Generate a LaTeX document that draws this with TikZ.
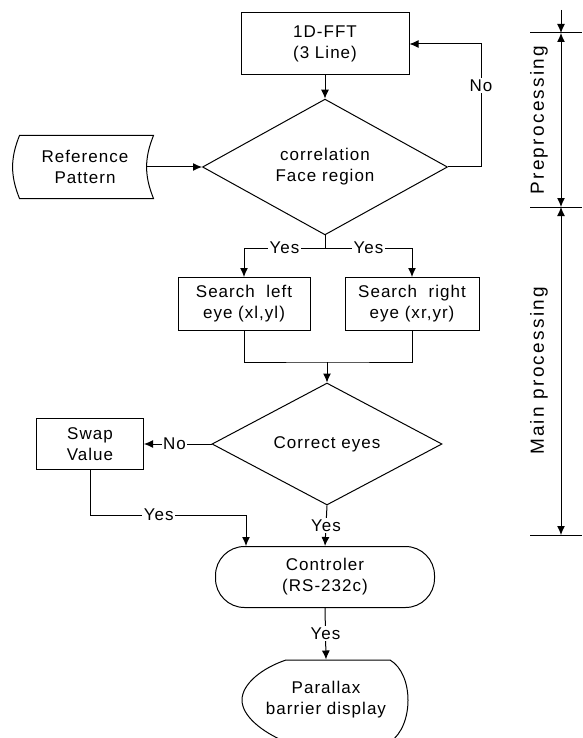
\documentclass[tikz,border=0pt]{standalone}
\usepackage{fontspec}
\setmainfont{Liberation Sans}[LetterSpace=6]
\newfontfamily\sidefont{Liberation Sans}[LetterSpace=12]
\usetikzlibrary{shapes.geometric,arrows.meta,positioning}

\begin{document}
\begin{tikzpicture}
	[x=1pt,y=-1pt,line width=1pt,
	font=\fontsize{17}{21}\selectfont,
	box/.style={draw,rectangle,inner sep=0pt,align=center},
	dec/.style={draw,diamond,inner sep=0pt,align=center},
	lbl/.style={fill=white,inner sep=1.5pt},
	side/.style={rotate=90,font=\sidefont\fontsize{19}{22}\selectfont},
	arr/.style={-{Latex[length=9pt,width=8pt]}},
	darr/.style={{Latex[length=9pt,width=8pt]}-{Latex[length=9pt,width=8pt]}}]
	\useasboundingbox (0,0) rectangle (582,738);
	%%%%% PREPROCESSING
	\node[box,minimum width=168pt,minimum height=62pt] (fft) at (325,44) {1D-FFT\\(3 Line)};
	\node[dec,minimum width=245pt,minimum height=102pt] (corr) at (325,167) {correlation\\Face region};
	\node[align=center,minimum width=136pt,minimum height=62pt] (ref) at (85,167) {Reference\\Pattern};
	\draw ([xshift=3pt]ref.north west) -- (ref.north east) to[bend right=22] (ref.south east)
	-- ([xshift=3pt]ref.south west) to[bend left=22] cycle;
	\coordinate (refout) at ([xshift=-7pt]ref.east);
	\draw[arr] (refout) -- (corr.west);
	\draw[arr] (fft.south) -- (corr.north);
	\draw[arr] (corr.east) -- ++(33,0) |- node[lbl,pos=0.33]{No} (fft.east);
	%%%%% SEARCH EYES
	\node[box,minimum width=132pt,minimum height=53pt] (left) at (244,304) {Search~~left\\eye (xl,yl)};
	\node[box,minimum width=134pt,minimum height=53pt] (right) at (412,304) {Search~~right\\eye (xr,yr)};
	\coordinate (split) at (325,248);
	\draw (corr.south) -- (split);
	\draw[arr] (split) -| node[lbl,pos=0.25]{Yes} (left.north);
	\draw[arr] (split) -| node[lbl,pos=0.25]{Yes} (right.north);
	\coordinate (merge) at (327,362);
	\draw (left.south) |- (merge) -| (right.south);
	%%%%% CHECK
	\node[dec,minimum width=230pt,minimum height=82pt] (eyes) at (327,444) {Correct eyes};
	\node[box,minimum width=107pt,minimum height=51pt] (swap) at (90,444) {Swap\\Value};
	\draw[arr] (merge) -- (eyes.north);
	\draw[arr] (eyes.west) -- node[lbl,pos=0.55]{No} (swap.east);
	%%%%% OUTPUT
	\node[draw,rounded corners=29pt,align=center,minimum width=219pt,minimum height=61pt] (ctrl) at (325,577) {Controler\\(RS-232c)};
	\coordinate (swapin) at ([xshift=-79pt]ctrl.north);
	\draw[arr] (swap.south) |- node[lbl,pos=0.72]{Yes} ([yshift=31pt]swapin) -- (swapin);
	\draw[arr] (eyes.south) -- node[lbl]{Yes} (ctrl.north);
	\node[align=center,minimum width=168pt,minimum height=80pt] (disp) at (326,700) {Parallax\\barrier display};
	\draw (286,660) -- (390,660) .. controls (414,674) and (414,726) .. (390,742) -- (286,742)
	.. controls (262,732) and (242,716) .. (242,700) .. controls (242,684) and (262,668) .. cycle;
	\draw[arr] (ctrl.south) -- node[lbl]{Yes} (disp.north);
	%%%%% STAGES
	\foreach \y/\n in {33/a,207/b,535/c}
	{
	\coordinate (d\n) at (561,\y);
	\draw (530,\y) -- (582,\y);
	};
	\coordinate (dtop) at (561,10);
	\draw[arr] (dtop) -- (da);
	\draw[darr] (da) -- (db);
	\draw[darr] (db) -- (dc);
	\node[side] (pre) at (539,120) {Preprocessing};
	\node[side] (main) at (539,371) {Main processing};
\end{tikzpicture}
\end{document}
